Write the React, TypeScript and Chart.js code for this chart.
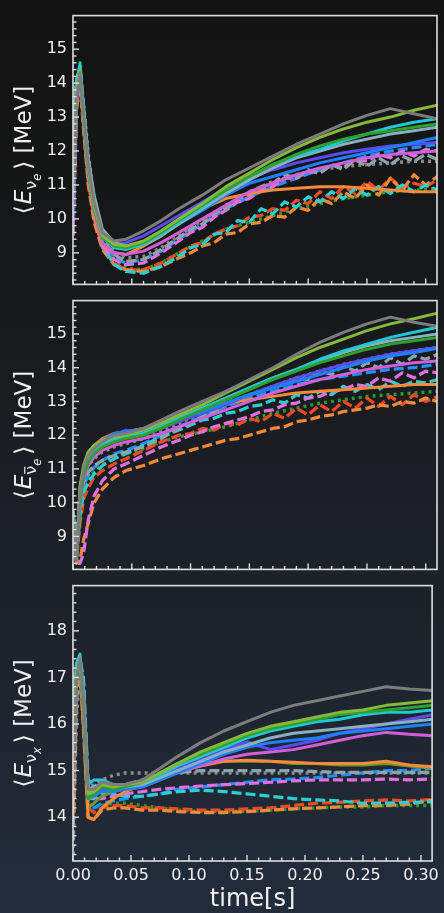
import React, { useEffect, useRef } from 'react';
import { Chart, registerables } from 'chart.js';

Chart.register(...registerables);

// ---------------- data ----------------
const times = [0, 0.003, 0.006, 0.009, 0.013, 0.018, 0.025, 0.035, 0.045, 0.06, 0.075, 0.09, 0.11, 0.13, 0.15, 0.17, 0.19, 0.21, 0.23, 0.25, 0.27, 0.29, 0.31];
const timesFine = [0, 0.003, 0.006, 0.009, 0.013, 0.018, 0.025, 0.035, 0.045, 0.06, 0.075, 0.09, 0.1, 0.11, 0.12, 0.13, 0.14, 0.15, 0.16, 0.17, 0.18, 0.19, 0.2, 0.21, 0.22, 0.23, 0.24, 0.25, 0.26, 0.27, 0.28, 0.29, 0.3, 0.31];
const xTickLabels = ['0.00', '0.05', '0.10', '0.15', '0.20', '0.25', '0.30'];

// <E_nu_e>
const nueGraySolid = [10.5, 13.6, 14.3, 13.1, 11.6, 10.5, 9.6, 9.35, 9.4, 9.65, 9.95, 10.3, 10.7, 11.15, 11.5, 11.85, 12.2, 12.5, 12.8, 13.05, 13.25, 13.1, 12.95];
const nueYellowGreenSolid = [11.0, 13.8, 14.4, 13.0, 11.5, 10.4, 9.5, 9.25, 9.2, 9.35, 9.65, 10.0, 10.45, 10.95, 11.35, 11.75, 12.1, 12.4, 12.65, 12.85, 13.0, 13.2, 13.35];
const nueGreenSolid = [10.8, 13.6, 14.3, 12.9, 11.4, 10.3, 9.45, 9.2, 9.15, 9.3, 9.6, 9.95, 10.4, 10.85, 11.25, 11.6, 11.9, 12.15, 12.35, 12.5, 12.6, 12.7, 12.8];
const nueCyanSolid = [11.5, 14.0, 14.6, 13.2, 11.6, 10.4, 9.45, 9.15, 9.1, 9.25, 9.55, 9.9, 10.35, 10.85, 11.25, 11.6, 11.85, 12.05, 12.3, 12.5, 12.7, 12.85, 12.95];
const nueCadetSolid = [12.5, 14.1, 14.5, 13.3, 11.8, 10.7, 9.7, 9.3, 9.2, 9.25, 9.5, 9.85, 10.3, 10.75, 11.15, 11.5, 11.8, 12.0, 12.2, 12.35, 12.5, 12.6, 12.7];
const nueBlueSolid = [10.0, 13.5, 14.3, 12.9, 11.4, 10.3, 9.5, 9.2, 9.2, 9.3, 9.55, 9.85, 10.25, 10.7, 11.05, 11.25, 11.45, 11.65, 11.8, 11.95, 12.1, 12.25, 12.4];
const nueIndigoSolid = [10.2, 13.6, 14.4, 13.0, 11.5, 10.4, 9.6, 9.25, 9.3, 9.5, 9.8, 10.1, 10.5, 10.9, 11.2, 11.45, 11.65, 11.8, 11.95, 12.05, 12.15, 12.2, 12.25];
const nueMagentaSolid = [9.6, 13.4, 14.2, 12.8, 11.3, 10.2, 9.3, 9.0, 8.95, 9.05, 9.3, 9.6, 10.0, 10.4, 10.8, 11.05, 11.3, 11.5, 11.65, 11.8, 11.9, 11.95, 12.0];
const nueOrangeSolid = [10.0, 13.5, 14.2, 12.8, 11.2, 10.1, 9.25, 9.0, 8.95, 9.2, 9.5, 9.9, 10.3, 10.6, 10.75, 10.85, 10.9, 10.95, 10.95, 10.9, 10.85, 10.8, 10.8];
const nueBlueDash = [10.5, 13.6, 14.3, 13.0, 11.5, 10.3, 9.3, 8.85, 8.7, 8.8, 9.05, 9.4, 9.85, 10.3, 10.65, 10.95, 11.2, 11.45, 11.65, 11.85, 12.0, 12.1, 12.2];
const nueGreenDot = [10.2, 13.5, 14.4, 13.1, 11.5, 10.3, 9.3, 8.8, 8.55, 8.5, 8.7, 9.0, 9.35, 9.7, 9.9, 10.1, 10.3, 10.45, 10.6, 10.7, 10.8, 10.85, 10.9];
const nueGrayDot = [12.8, 14.1, 14.4, 13.4, 11.9, 10.6, 9.5, 9.0, 8.85, 8.9, 9.15, 9.5, 9.95, 10.4, 10.8, 11.1, 11.3, 11.45, 11.55, 11.6, 11.65, 11.7, 11.7];
// noisy series on the fine time grid
const nueGrayDash = [12.0, 14.0, 14.3, 13.2, 11.7, 10.5, 9.4, 8.95, 8.75, 8.8, 9.1, 9.45, 9.7, 9.85, 10.15, 10.3, 10.6, 10.7, 10.95, 11.05, 11.3, 11.2, 11.45, 11.35, 11.6, 11.45, 11.75, 11.55, 11.8, 11.6, 11.85, 11.7, 11.9, 11.75];
const nueMagentaDash = [9.8, 13.4, 14.2, 12.9, 11.3, 10.1, 9.2, 8.8, 8.65, 8.7, 9.0, 9.35, 9.6, 9.75, 10.05, 10.25, 10.5, 10.6, 10.85, 10.95, 11.2, 11.2, 11.4, 11.35, 11.6, 11.5, 11.75, 11.7, 11.9, 11.8, 12.0, 11.85, 12.05, 12.0];
const nueCyanDash = [11.0, 13.9, 14.5, 13.2, 11.6, 10.3, 9.2, 8.65, 8.45, 8.4, 8.6, 8.9, 9.15, 9.25, 9.55, 9.6, 9.95, 9.9, 10.3, 10.15, 10.5, 10.35, 10.65, 10.5, 10.8, 10.6, 10.9, 10.7, 10.95, 10.75, 11.0, 10.8, 11.0, 10.85];
const nueOrangeDash = [9.5, 13.2, 14.0, 12.6, 11.0, 9.9, 9.1, 8.65, 8.5, 8.45, 8.6, 8.85, 9.0, 9.2, 9.3, 9.55, 9.6, 9.85, 9.9, 10.1, 10.05, 10.35, 10.25, 10.6, 10.45, 10.8, 10.6, 11.0, 10.7, 11.2, 10.85, 11.3, 11.0, 11.25];
const nueRedDash = [9.8, 13.3, 14.1, 12.7, 11.1, 10.0, 9.15, 8.7, 8.5, 8.5, 8.7, 9.0, 9.2, 9.3, 9.55, 9.7, 9.8, 10.05, 10.1, 10.3, 10.25, 10.55, 10.45, 10.8, 10.6, 10.95, 10.75, 11.1, 10.85, 11.2, 10.9, 11.05, 10.95, 11.15];

// <E_anti-nu_e>
const anueGraySolid = [9.6, 8.3, 10.3, 11.0, 11.4, 11.6, 11.8, 12.0, 12.05, 12.2, 12.45, 12.7, 13.0, 13.3, 13.65, 14.0, 14.4, 14.75, 15.05, 15.3, 15.5, 15.35, 15.23];
const anueYellowGreenSolid = [9.5, 8.4, 10.5, 11.1, 11.5, 11.7, 11.85, 11.95, 12.0, 12.15, 12.35, 12.6, 12.9, 13.25, 13.6, 13.95, 14.3, 14.6, 14.85, 15.1, 15.3, 15.45, 15.62];
const anueGreenSolid = [9.4, 8.3, 10.0, 10.8, 11.2, 11.45, 11.65, 11.8, 11.9, 12.0, 12.2, 12.45, 12.75, 13.05, 13.35, 13.65, 13.9, 14.15, 14.35, 14.55, 14.7, 14.8, 14.9];
const anueCyanSolid = [9.7, 8.5, 10.2, 10.9, 11.3, 11.5, 11.7, 11.85, 11.95, 12.05, 12.25, 12.5, 12.8, 13.1, 13.4, 13.7, 13.95, 14.25, 14.5, 14.7, 14.9, 15.05, 15.2];
const anueCadetSolid = [9.8, 8.6, 10.4, 11.0, 11.35, 11.55, 11.75, 11.9, 11.95, 12.05, 12.25, 12.5, 12.8, 13.1, 13.4, 13.7, 13.95, 14.2, 14.45, 14.65, 14.8, 14.9, 15.0];
const anueBlueSolid = [9.3, 8.3, 10.3, 11.0, 11.4, 11.65, 11.85, 12.05, 12.1, 12.2, 12.35, 12.5, 12.7, 12.95, 13.2, 13.4, 13.6, 13.8, 14.0, 14.2, 14.35, 14.45, 14.57];
const anueIndigoSolid = [9.2, 8.3, 10.4, 11.1, 11.5, 11.7, 11.85, 12.0, 12.15, 12.05, 12.2, 12.4, 12.65, 12.9, 13.2, 13.45, 13.7, 13.9, 14.1, 14.25, 14.4, 14.5, 14.6];
const anueMagentaSolid = [9.5, 8.3, 10.0, 10.7, 11.1, 11.35, 11.55, 11.7, 11.8, 11.9, 12.05, 12.25, 12.5, 12.75, 13.0, 13.25, 13.45, 13.65, 13.8, 13.95, 14.05, 14.15, 14.2];
const anueOrangeSolid = [9.6, 8.4, 10.3, 11.0, 11.45, 11.7, 11.9, 12.05, 12.1, 12.2, 12.35, 12.55, 12.75, 12.95, 13.05, 13.15, 13.25, 13.3, 13.35, 13.4, 13.45, 13.5, 13.5];
const anueBlueDash = [9.5, 8.4, 9.8, 10.5, 10.8, 11.05, 11.25, 11.45, 11.55, 11.75, 12.0, 12.25, 12.55, 12.85, 13.1, 13.3, 13.5, 13.65, 13.75, 13.85, 13.95, 14.0, 14.1];
const anueGreenDot = [9.6, 8.4, 9.6, 10.3, 10.7, 10.95, 11.15, 11.35, 11.45, 11.6, 11.8, 11.95, 12.1, 12.25, 12.45, 12.65, 12.8, 12.95, 13.05, 13.15, 13.2, 13.25, 13.3];
const anueGrayDot = [9.7, 8.6, 10.2, 10.8, 11.1, 11.3, 11.5, 11.65, 11.75, 11.9, 12.1, 12.35, 12.65, 12.95, 13.2, 13.45, 13.7, 13.9, 14.1, 14.25, 14.4, 14.5, 14.6];
// noisy series on the fine time grid
const anueGrayDash = [9.7, 8.4, 9.9, 10.6, 10.9, 11.1, 11.25, 11.4, 11.5, 11.65, 11.9, 12.2, 12.35, 12.55, 12.7, 12.9, 13.0, 13.2, 13.3, 13.45, 13.5, 13.7, 13.65, 13.9, 13.8, 14.05, 13.9, 14.15, 14.0, 14.3, 14.1, 14.35, 14.25, 14.4];
const anueMagentaDash = [9.4, 8.2, 8.2, 8.5, 9.5, 10.2, 10.65, 11.0, 11.15, 11.4, 11.65, 11.85, 12.0, 12.1, 12.25, 12.35, 12.45, 12.55, 12.7, 12.75, 12.9, 12.95, 13.1, 13.15, 13.3, 13.35, 13.5, 13.45, 13.7, 13.6, 13.85, 13.7, 13.9, 13.85];
const anueCyanDash = [9.6, 8.5, 9.6, 10.3, 10.6, 10.85, 11.1, 11.3, 11.45, 11.7, 11.95, 12.15, 12.3, 12.45, 12.5, 12.65, 12.7, 12.85, 12.9, 13.05, 12.95, 13.2, 13.1, 13.3, 13.2, 13.45, 13.3, 13.5, 13.35, 13.6, 13.45, 13.6, 13.55, 13.65];
const anueOrangeDash = [9.2, 8.2, 8.3, 8.9, 9.4, 10.0, 10.4, 10.75, 10.95, 11.1, 11.3, 11.45, 11.55, 11.65, 11.75, 11.85, 11.9, 12.0, 12.1, 12.2, 12.25, 12.4, 12.45, 12.55, 12.6, 12.7, 12.75, 12.8, 12.9, 12.85, 13.0, 12.95, 13.1, 13.0];
const anueRedDash = [9.4, 8.3, 9.4, 10.1, 10.45, 10.75, 10.95, 11.15, 11.3, 11.55, 11.8, 12.0, 12.05, 12.2, 12.15, 12.35, 12.3, 12.5, 12.4, 12.65, 12.5, 12.8, 12.6, 12.9, 12.7, 13.0, 12.8, 13.1, 12.85, 13.15, 12.9, 13.2, 13.0, 13.15];

// <E_nu_x>
const nuxGraySolid = [14.5, 17.0, 17.4, 16.6, 14.6, 14.6, 14.75, 14.7, 14.7, 14.8, 15.05, 15.3, 15.6, 15.85, 16.05, 16.25, 16.4, 16.5, 16.6, 16.7, 16.8, 16.75, 16.72];
const nuxYellowGreenSolid = [15.5, 17.1, 17.4, 16.5, 14.5, 14.55, 14.7, 14.65, 14.7, 14.75, 14.95, 15.15, 15.4, 15.6, 15.8, 15.95, 16.05, 16.15, 16.25, 16.3, 16.4, 16.45, 16.5];
const nuxGreenSolid = [15.0, 17.0, 17.3, 16.4, 14.4, 14.5, 14.65, 14.6, 14.65, 14.75, 14.95, 15.15, 15.35, 15.55, 15.75, 15.9, 16.0, 16.1, 16.2, 16.25, 16.3, 16.35, 16.4];
const nuxCyanSolid = [16.0, 17.3, 17.5, 16.8, 14.7, 14.8, 14.8, 14.7, 14.7, 14.75, 14.9, 15.1, 15.3, 15.5, 15.7, 15.85, 15.95, 16.05, 16.1, 16.2, 16.25, 16.25, 16.3];
const nuxCadetSolid = [16.3, 17.2, 17.4, 16.7, 14.6, 14.65, 14.7, 14.65, 14.65, 14.7, 14.85, 15.0, 15.2, 15.4, 15.55, 15.7, 15.8, 15.85, 15.9, 15.95, 16.0, 16.05, 16.1];
const nuxBlueSolid = [14.9, 17.0, 17.3, 16.4, 14.4, 14.45, 14.55, 14.55, 14.6, 14.65, 14.8, 14.95, 15.15, 15.35, 15.5, 15.6, 15.65, 15.7, 15.8, 15.85, 15.9, 15.95, 16.0];
const nuxIndigoSolid = [14.8, 16.9, 17.3, 16.3, 14.4, 14.5, 14.6, 14.6, 14.65, 14.7, 14.85, 15.05, 15.25, 15.45, 15.62, 15.45, 15.55, 15.65, 15.8, 15.9, 16.0, 16.1, 16.2];
const nuxMagentaSolid = [15.2, 17.0, 17.3, 16.6, 14.6, 14.6, 14.65, 14.6, 14.6, 14.65, 14.8, 14.95, 15.1, 15.25, 15.35, 15.4, 15.45, 15.55, 15.65, 15.75, 15.82, 15.78, 15.75];
const nuxOrangeSolid = [14.0, 16.8, 17.2, 16.0, 14.0, 13.95, 14.2, 14.4, 14.55, 14.7, 14.85, 15.0, 15.1, 15.2, 15.22, 15.2, 15.18, 15.15, 15.15, 15.15, 15.2, 15.12, 15.08];
const nuxOliveSolid = [14.2, 16.8, 17.2, 16.1, 14.2, 14.3, 14.45, 14.55, 14.65, 14.75, 14.9, 15.05, 15.15, 15.2, 15.2, 15.2, 15.15, 15.15, 15.12, 15.12, 15.15, 15.1, 15.05];
const nuxGrayDash = [13.5, 16.5, 17.1, 16.4, 14.4, 14.4, 14.5, 14.6, 14.7, 14.8, 14.9, 14.95, 15.0, 15.0, 15.0, 15.0, 15.0, 14.98, 14.96, 14.96, 14.96, 14.96, 14.96];
const nuxMagentaDash = [15.8, 17.1, 17.3, 16.9, 14.6, 14.4, 14.4, 14.45, 14.5, 14.55, 14.6, 14.63, 14.67, 14.7, 14.72, 14.75, 14.78, 14.8, 14.8, 14.8, 14.82, 14.8, 14.82];
const nuxCyanDash = [16.0, 17.3, 17.4, 17.0, 14.8, 14.7, 14.6, 14.5, 14.45, 14.45, 14.5, 14.55, 14.58, 14.55, 14.5, 14.45, 14.4, 14.37, 14.35, 14.3, 14.3, 14.32, 14.33];
const nuxOrangeDash = [13.8, 16.6, 17.1, 15.9, 14.0, 13.95, 14.15, 14.2, 14.2, 14.15, 14.15, 14.12, 14.1, 14.1, 14.12, 14.15, 14.18, 14.2, 14.22, 14.25, 14.25, 14.28, 14.37];
const nuxRedDash = [14.5, 16.9, 17.2, 16.2, 14.2, 14.1, 14.2, 14.25, 14.25, 14.2, 14.2, 14.18, 14.15, 14.15, 14.18, 14.2, 14.25, 14.3, 14.32, 14.35, 14.37, 14.35, 14.38];
const nuxBlueDash = [14.3, 16.8, 17.2, 16.3, 14.2, 14.2, 14.3, 14.35, 14.4, 14.45, 14.5, 14.6, 14.65, 14.7, 14.75, 14.8, 14.82, 14.85, 14.9, 14.95, 15.0, 15.0, 15.05];
const nuxGreenDot = [14.6, 16.9, 17.2, 16.2, 14.3, 14.2, 14.25, 14.3, 14.3, 14.25, 14.2, 14.15, 14.12, 14.12, 14.13, 14.15, 14.18, 14.2, 14.22, 14.22, 14.25, 14.25, 14.25];
const nuxGrayDot = [13.2, 16.2, 17.0, 16.4, 14.6, 14.7, 14.8, 14.9, 14.95, 14.95, 14.95, 14.95, 14.95, 14.95, 14.95, 14.95, 14.95, 14.95, 14.95, 14.95, 14.95, 14.95, 14.95];

// ---------------- styles ----------------
const STYLES: Record<string, { color: string; dash: number[]; width: number }> = {
  graySolid: { color: '#7c7c7c', dash: [], width: 3 },
  yellowGreenSolid: { color: '#86b83c', dash: [], width: 3 },
  greenSolid: { color: '#2ea02e', dash: [], width: 3 },
  oliveSolid: { color: '#6c9a2c', dash: [], width: 3 },
  cyanSolid: { color: '#1fc8d2', dash: [], width: 3 },
  cadetSolid: { color: '#8ab0c0', dash: [], width: 3 },
  blueSolid: { color: '#1f80ff', dash: [], width: 3 },
  indigoSolid: { color: '#5a4cf0', dash: [], width: 3 },
  magentaSolid: { color: '#d35fd8', dash: [], width: 3 },
  orangeSolid: { color: '#f58a3a', dash: [], width: 3 },
  grayDash: { color: '#8ea4aa', dash: [10, 4], width: 3.2 },
  magentaDash: { color: '#e070e0', dash: [10, 4], width: 3.2 },
  cyanDash: { color: '#2ad0d0', dash: [10, 4], width: 3.2 },
  orangeDash: { color: '#f08a3a', dash: [10, 4], width: 3.2 },
  redDash: { color: '#f04a24', dash: [10, 4], width: 3.2 },
  blueDash: { color: '#1e90ff', dash: [10, 4], width: 3.2 },
  greenDot: { color: '#2a9a2a', dash: [3, 4], width: 3.4 },
  grayDot: { color: '#8a8a8a', dash: [3, 4], width: 3.4 },
};

const TEXT = '#f0f0f0';
const FRAME = '#dedede';
const X_MAX = 0.3096;
const TICK_FONT = 16;

type SeriesDef = { key: string; data: number[]; t?: number[] };

const panel1Series: SeriesDef[] = [
  { key: 'graySolid', data: nueGraySolid },
  { key: 'yellowGreenSolid', data: nueYellowGreenSolid },
  { key: 'greenSolid', data: nueGreenSolid },
  { key: 'cyanSolid', data: nueCyanSolid },
  { key: 'cadetSolid', data: nueCadetSolid },
  { key: 'blueSolid', data: nueBlueSolid },
  { key: 'indigoSolid', data: nueIndigoSolid },
  { key: 'magentaSolid', data: nueMagentaSolid },
  { key: 'orangeSolid', data: nueOrangeSolid },
  { key: 'grayDash', data: nueGrayDash, t: timesFine },
  { key: 'magentaDash', data: nueMagentaDash, t: timesFine },
  { key: 'cyanDash', data: nueCyanDash, t: timesFine },
  { key: 'orangeDash', data: nueOrangeDash, t: timesFine },
  { key: 'redDash', data: nueRedDash, t: timesFine },
  { key: 'blueDash', data: nueBlueDash },
  { key: 'greenDot', data: nueGreenDot },
  { key: 'grayDot', data: nueGrayDot },
];
const panel2Series: SeriesDef[] = [
  { key: 'graySolid', data: anueGraySolid },
  { key: 'yellowGreenSolid', data: anueYellowGreenSolid },
  { key: 'greenSolid', data: anueGreenSolid },
  { key: 'cyanSolid', data: anueCyanSolid },
  { key: 'cadetSolid', data: anueCadetSolid },
  { key: 'blueSolid', data: anueBlueSolid },
  { key: 'indigoSolid', data: anueIndigoSolid },
  { key: 'magentaSolid', data: anueMagentaSolid },
  { key: 'orangeSolid', data: anueOrangeSolid },
  { key: 'grayDash', data: anueGrayDash, t: timesFine },
  { key: 'magentaDash', data: anueMagentaDash, t: timesFine },
  { key: 'cyanDash', data: anueCyanDash, t: timesFine },
  { key: 'orangeDash', data: anueOrangeDash, t: timesFine },
  { key: 'redDash', data: anueRedDash, t: timesFine },
  { key: 'blueDash', data: anueBlueDash },
  { key: 'greenDot', data: anueGreenDot },
  { key: 'grayDot', data: anueGrayDot },
];
const panel3Series: SeriesDef[] = [
  { key: 'graySolid', data: nuxGraySolid },
  { key: 'yellowGreenSolid', data: nuxYellowGreenSolid },
  { key: 'greenSolid', data: nuxGreenSolid },
  { key: 'cyanSolid', data: nuxCyanSolid },
  { key: 'cadetSolid', data: nuxCadetSolid },
  { key: 'blueSolid', data: nuxBlueSolid },
  { key: 'indigoSolid', data: nuxIndigoSolid },
  { key: 'magentaSolid', data: nuxMagentaSolid },
  { key: 'orangeSolid', data: nuxOrangeSolid },
  { key: 'oliveSolid', data: nuxOliveSolid },
  { key: 'grayDash', data: nuxGrayDash },
  { key: 'magentaDash', data: nuxMagentaDash },
  { key: 'cyanDash', data: nuxCyanDash },
  { key: 'orangeDash', data: nuxOrangeDash },
  { key: 'redDash', data: nuxRedDash },
  { key: 'blueDash', data: nuxBlueDash },
  { key: 'greenDot', data: nuxGreenDot },
  { key: 'grayDot', data: nuxGrayDot },
];

// ---------------- plugins ----------------
const framePlugin = {
  id: 'frameTicks',
  afterDatasetsDraw(chart: any) {
    const { ctx, chartArea } = chart;
    const { left, right, top, bottom } = chartArea;
    const xs = chart.scales.x;
    const ys = chart.scales.y;
    ctx.save();
    ctx.strokeStyle = FRAME;
    ctx.lineWidth = 1.4;
    for (let i = 0; i <= 30; i++) {
      const px = xs.getPixelForValue(i / 100);
      const len = i % 5 === 0 ? 6 : 3.5;
      ctx.beginPath();
      ctx.moveTo(px, bottom);
      ctx.lineTo(px, bottom - len);
      ctx.stroke();
    }
    const start = Math.ceil(ys.min * 5 - 1e-6);
    const end = Math.floor(ys.max * 5 + 1e-6);
    for (let k = start; k <= end; k++) {
      const v = k / 5;
      const py = ys.getPixelForValue(v);
      const len = k % 5 === 0 ? 6 : 3.5;
      ctx.beginPath();
      ctx.moveTo(left, py);
      ctx.lineTo(left + len, py);
      ctx.stroke();
    }
    ctx.lineWidth = 1.6;
    ctx.strokeRect(left, top, right - left, bottom - top);
    ctx.restore();
  },
};

function drawYTitle(ctx: CanvasRenderingContext2D, cx: number, cy: number, flavor: string, bar: boolean) {
  const size = 23;
  const subSize = 16;
  const sub2Size = 11.5;
  const fam = '"DejaVu Sans", sans-serif';
  const pieces = [
    { t: '\u27E8', f: `${size}px ${fam}`, dy: 0, gap: 0 },
    { t: 'E', f: `italic ${size}px ${fam}`, dy: 0, gap: 1 },
    { t: '\u03BD', f: `${subSize}px ${fam}`, dy: 5, gap: 0, bar },
    { t: flavor, f: `italic ${sub2Size}px ${fam}`, dy: 9.5, gap: 0 },
    { t: '\u27E9', f: `${size}px ${fam}`, dy: 0, gap: 4 },
    { t: ' [MeV]', f: `${size}px ${fam}`, dy: 0, gap: 0 },
  ];
  ctx.save();
  let total = 0;
  const widths: number[] = [];
  for (const p of pieces) {
    ctx.font = p.f;
    const w = ctx.measureText(p.t).width;
    widths.push(w);
    total += w + p.gap;
  }
  ctx.translate(cx, cy);
  ctx.rotate(-Math.PI / 2);
  ctx.fillStyle = TEXT;
  ctx.strokeStyle = TEXT;
  ctx.textBaseline = 'alphabetic';
  ctx.textAlign = 'left';
  let x = -total / 2;
  const base = size * 0.36;
  pieces.forEach((p: any, i) => {
    x += p.gap;
    ctx.font = p.f;
    ctx.fillText(p.t, x, base + p.dy);
    if (p.bar) {
      ctx.lineWidth = 1.2;
      ctx.beginPath();
      ctx.moveTo(x + 1, base + p.dy - subSize * 0.72);
      ctx.lineTo(x + widths[i] - 1, base + p.dy - subSize * 0.72);
      ctx.stroke();
    }
    x += widths[i];
  });
  ctx.restore();
}

const titlePlugin = {
  id: 'mathTitles',
  afterDraw(chart: any, _args: any, opts: any) {
    const { ctx, chartArea } = chart;
    drawYTitle(ctx, 23, (chartArea.top + chartArea.bottom) / 2, opts.flavor, opts.bar);
    if (opts.xTitle) {
      ctx.save();
      ctx.fillStyle = TEXT;
      ctx.font = '24px "DejaVu Sans", sans-serif';
      ctx.textAlign = 'center';
      ctx.textBaseline = 'middle';
      ctx.fillText(opts.xTitle, (chartArea.left + chartArea.right) / 2, chartArea.bottom + 39);
      ctx.restore();
    }
  },
};

// ---------------- chart factory ----------------
type PanelCfg = {
  series: SeriesDef[];
  yMin: number;
  yMax: number;
  padTop: number;
  padBottom: number;
  showX: boolean;
  flavor: string;
  bar: boolean;
};

function makeChart(canvas: HTMLCanvasElement, cfg: PanelCfg) {
  return new Chart(canvas, {
    type: 'line',
    data: {
      datasets: cfg.series.map((s) => ({
        label: s.key,
        data: (s.t ?? times).map((t, i) => ({ x: t, y: s.data[i] })),
        borderColor: STYLES[s.key].color,
        borderDash: STYLES[s.key].dash,
        borderWidth: STYLES[s.key].width,
        borderCapStyle: 'butt',
        borderJoinStyle: 'round',
        pointRadius: 0,
        tension: 0,
        fill: false,
        clip: 0,
      })) as any,
    },
    options: {
      animation: false,
      responsive: false,
      maintainAspectRatio: false,
      events: [],
      layout: { padding: { top: cfg.padTop, bottom: cfg.padBottom, left: 0, right: 7 } },
      plugins: {
        legend: { display: false },
        tooltip: { enabled: false },
        mathTitles: { flavor: cfg.flavor, bar: cfg.bar, xTitle: cfg.showX ? 'time[s]' : '' },
      } as any,
      scales: {
        x: {
          type: 'linear',
          min: 0,
          max: X_MAX,
          display: cfg.showX,
          grid: { display: false, drawTicks: false },
          border: { display: false },
          ticks: {
            stepSize: 0.05,
            includeBounds: false,
            autoSkip: false,
            maxRotation: 0,
            padding: 5,
            color: TEXT,
            font: { family: 'DejaVu Sans', size: TICK_FONT },
            callback: (v: any) => {
              const idx = Math.round(Number(v) / 0.05);
              if (Math.abs(Number(v) - idx * 0.05) > 1e-6) return '';
              return xTickLabels[idx] ?? '';
            },
          },
          afterFit: (s: any) => {
            s.height = cfg.showX ? 52 : 0;
          },
        },
        y: {
          type: 'linear',
          min: cfg.yMin,
          max: cfg.yMax,
          grid: { display: false, drawTicks: false },
          border: { display: false },
          ticks: {
            stepSize: 1,
            includeBounds: false,
            autoSkip: false,
            padding: 6,
            color: TEXT,
            font: { family: 'DejaVu Sans', size: TICK_FONT },
            callback: (v: any) => {
              const n = Number(v);
              return Math.abs(n - Math.round(n)) < 1e-6 ? String(Math.round(n)) : '';
            },
          },
          afterFit: (s: any) => {
            s.width = 73;
          },
        },
      },
    } as any,
    plugins: [framePlugin, titlePlugin],
  });
}

export default function App() {
  const c1 = useRef<HTMLCanvasElement>(null);
  const c2 = useRef<HTMLCanvasElement>(null);
  const c3 = useRef<HTMLCanvasElement>(null);

  useEffect(() => {
    document.body.style.margin = '0';
    const charts = [
      makeChart(c1.current!, { series: panel1Series, yMin: 8.07, yMax: 15.99, padTop: 7, padBottom: 9, showX: false, flavor: 'e', bar: false }),
      makeChart(c2.current!, { series: panel2Series, yMin: 8.02, yMax: 15.99, padTop: 7, padBottom: 9, showX: false, flavor: 'e', bar: true }),
      makeChart(c3.current!, { series: panel3Series, yMin: 13.06, yMax: 18.97, padTop: 7, padBottom: 0, showX: true, flavor: 'x', bar: false }),
    ];
    return () => charts.forEach((c) => c.destroy());
  }, []);

  const cs: React.CSSProperties = { position: 'absolute', left: 0 };
  return (
    <div
      style={{
        position: 'absolute',
        left: 0,
        top: 0,
        width: 444,
        height: 913,
        overflow: 'hidden',
        background: 'linear-gradient(to bottom, #131313 0%, #171819 30%, #1c2027 60%, #222c3b 100%)',
      }}
    >
      <canvas ref={c1} width={444} height={300} style={{ ...cs, top: 0, width: 444, height: 300 }} />
      <canvas ref={c2} width={444} height={300} style={{ ...cs, top: 285, width: 444, height: 300 }} />
      <canvas ref={c3} width={444} height={343} style={{ ...cs, top: 570, width: 444, height: 343 }} />
    </div>
  );
}
